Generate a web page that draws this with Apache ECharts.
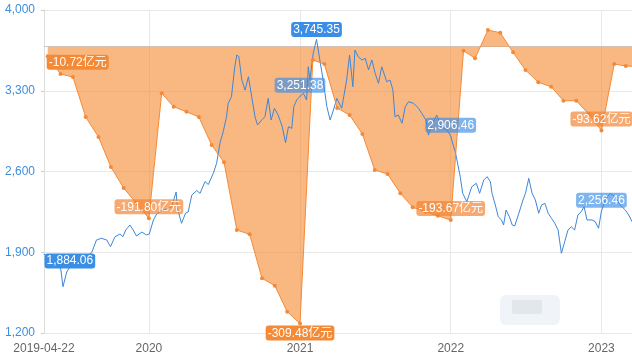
<!DOCTYPE html>
<html><head><meta charset="utf-8">
<script src="https://cdn.jsdelivr.net/npm/echarts@6/dist/echarts.min.js"></script>
<style>html,body{margin:0;padding:0;background:#fff}#c{width:632px;height:356px}</style>
</head><body><div id="c"></div>
<script>
// ---- data ----
const blueDates = ['2019-04-22','2019-05-04','2019-05-16','2019-05-26','2019-06-02','2019-06-07','2019-06-16','2019-06-24','2019-07-08','2019-07-23','2019-08-06','2019-08-16','2019-08-27','2019-09-08','2019-09-21','2019-09-30','2019-10-11','2019-10-23','2019-10-30','2019-11-06','2019-11-16','2019-11-24','2019-12-02','2019-12-15','2019-12-26','2020-01-02','2020-01-12','2020-01-20','2020-02-01','2020-02-13','2020-02-25','2020-03-04','2020-03-07','2020-03-10','2020-03-20','2020-03-30','2020-04-05','2020-04-14','2020-04-26','2020-05-04','2020-05-16','2020-05-24','2020-06-05','2020-06-13','2020-06-21','2020-06-29','2020-07-07','2020-07-11','2020-07-19','2020-07-27','2020-08-01','2020-08-06','2020-08-13','2020-08-21','2020-08-29','2020-09-06','2020-09-14','2020-09-20','2020-09-30','2020-10-08','2020-10-16','2020-10-23','2020-10-31','2020-11-09','2020-11-19','2020-11-27','2020-12-04','2020-12-12','2020-12-17','2020-12-24','2021-01-01','2021-01-09','2021-01-17','2021-01-21','2021-01-25','2021-02-02','2021-02-10','2021-02-18','2021-02-26','2021-03-07','2021-03-15','2021-03-23','2021-03-31','2021-04-12','2021-04-24','2021-05-01','2021-05-09','2021-05-14','2021-05-22','2021-05-31','2021-06-08','2021-06-16','2021-06-24','2021-07-02','2021-07-10','2021-07-18','2021-07-30','2021-08-07','2021-08-14','2021-08-19','2021-08-27','2021-09-05','2021-09-13','2021-09-21','2021-10-03','2021-10-15','2021-10-23','2021-11-02','2021-11-08','2021-11-17','2021-11-28','2021-12-09','2021-12-23','2022-01-01','2022-01-08','2022-01-12','2022-01-16','2022-01-24','2022-01-30','2022-02-09','2022-02-21','2022-03-04','2022-03-12','2022-03-22','2022-03-30','2022-04-07','2022-04-11','2022-04-19','2022-04-26','2022-05-04','2022-05-09','2022-05-15','2022-05-23','2022-05-30','2022-06-05','2022-06-15','2022-06-25','2022-07-01','2022-07-09','2022-07-17','2022-07-25','2022-08-02','2022-08-09','2022-08-17','2022-08-25','2022-09-02','2022-09-10','2022-09-18','2022-09-26','2022-10-04','2022-10-12','2022-10-20','2022-10-28','2022-11-05','2022-11-13','2022-11-20','2022-11-27','2022-12-09','2022-12-17','2022-12-25','2023-01-01','2023-01-10','2023-01-22','2023-02-03','2023-02-15','2023-02-28','2023-03-08','2023-03-16'];
const blueValues = [1884.06,1850,1815,1798,1746,1601,1729,1775,1815,1850,1867,1902,2006,2021,2006,1948,2035,2058,2035,2093,2136,2093,2041,2075,2050,2058,2180,2232,2262,2275,2292,2388,2422,2284,2151,2240,2249,2396,2435,2411,2513,2487,2584,2671,2844,2945,3075,3191,3248,3508,3610,3595,3393,3306,3422,3248,3075,3003,3046,3075,3234,3046,3148,3090,2988,2850,2988,2974,3162,3220,3251.38,3278,3220,3508,3393,3625,3745.35,3567,3393,3162,3046,3133,3234,3148,3393,3610,3335,3653,3595,3567,3581,3480,3567,3451,3365,3508,3378,3393,3306,3075,3090,3018,3162,3205,3191,3148,3104,3046,2916,3012,3090,2986,2960,2906.46,2815,2772,2758,2555,2411,2338,2468,2498,2411,2526,2555,2512,2411,2310,2208,2180,2136,2266,2208,2136,2128,2238,2353,2411,2541,2411,2353,2238,2310,2324,2238,2194,2151,2093,1891,1991,2093,2121,2093,2223,2251,2295,2180,2180,2165,2108,2256.46,2353,2411,2382,2310,2266,2223,2165];
const flowDates = ['2019-05-01','2019-06-01','2019-07-01','2019-08-01','2019-09-01','2019-10-01','2019-11-01','2019-12-01','2020-01-01','2020-02-01','2020-03-01','2020-04-01','2020-05-01','2020-06-01','2020-07-01','2020-08-01','2020-09-01','2020-10-01','2020-11-01','2020-12-01','2021-01-01','2021-02-01','2021-03-01','2021-04-01','2021-05-01','2021-06-01','2021-07-01','2021-08-01','2021-09-01','2021-10-01','2021-11-01','2021-12-01','2022-01-01','2022-02-01','2022-03-01','2022-04-01','2022-05-01','2022-06-01','2022-07-01','2022-08-01','2022-09-01','2022-10-01','2022-11-01','2022-12-01','2023-01-01','2023-02-01','2023-03-01','2023-04-01'];
const flowValues = [-10.72,-30.5,-33.9,-78.6,-100.9,-134.5,-157.9,-174.7,-191.80,-52.1,-67.1,-72.7,-78.6,-109.9,-129.2,-204.9,-209.7,-258.9,-267.1,-296.2,-309.48,-14.9,-19.4,-68.5,-76.4,-97.6,-137.8,-142.3,-163.9,-179.5,-184.5,-189,-193.67,-4.5,-13,18.6,15.6,-6.3,-26.1,-39.8,-44.7,-60.4,-60.4,-75.2,-93.62,-19.4,-21.6,-22];
const labelDates = ['2021-01-01','2022-01-01','2023-01-01','2020-01-01'];
const xTickDates = ['2019-04-22','2020-01-01','2021-01-01','2022-01-01','2023-01-01'];
const xTickLabels = ['2019-04-22','2020','2021','2022','2023'];
const yTicks = [1200,1900,2600,3300,4000];
const xMin = '2019-04-22', xMax = '2023-03-16';
const flowUnit = '亿元';

// ---- styling ----
const FONT = "'Liberation Sans','Noto Sans CJK SC',sans-serif";
const BLUE = '#3a8ee6', ORANGE = '#f58a36';
const BLUE_LIGHT = 'rgba(58,142,230,0.65)', ORANGE_LIGHT = 'rgba(242,130,45,0.68)';
const fmtNum = v => v.toLocaleString('en-US', {minimumFractionDigits: 2, maximumFractionDigits: 2});

function lab(bg, pos, extra) {
  return Object.assign({show: true, position: pos, distance: 2, backgroundColor: bg, color: '#fff',
    padding: [2, 2, 1, 2], borderRadius: 3, fontSize: 12, lineHeight: 12, fontFamily: FONT}, extra || {});
}

const blueMaxIdx = blueValues.indexOf(Math.max(...blueValues));
const blueData = blueDates.map((d, i) => {
  const item = {value: [d, blueValues[i]]};
  let l = null;
  if (i === 0) l = lab(BLUE, 'right', {distance: 0, offset: [0, 7]});
  else if (i === blueMaxIdx) l = lab(BLUE, 'top');
  else if (labelDates.indexOf(d) >= 0) l = lab(BLUE_LIGHT, 'top', {distance: 3});
  if (l) { item.symbol = 'circle'; item.symbolSize = 1; item.label = l; }
  return item;
});

const flowMinIdx = flowValues.indexOf(Math.min(...flowValues));
const flowData = flowDates.map((d, i) => {
  const item = {value: [d, flowValues[i]]};
  if (i === 0) item.label = lab(ORANGE, 'right', {distance: 0, offset: [-3, 6]});
  else if (i === flowMinIdx) item.label = lab(ORANGE, 'bottom', {distance: 0});
  else if (labelDates.indexOf(d) >= 0) item.label = lab(ORANGE_LIGHT, 'top', {distance: 2});
  return item;
});

const tickTs = xTickDates.map(d => +new Date(d));
const chart = echarts.init(document.getElementById('c'), null, {renderer: 'canvas'});
chart.setOption({
  animation: false,
  backgroundColor: '#fff',
  textStyle: {fontFamily: FONT},
  grid: {left: 44, right: 0, top: 10, bottom: 23, containLabel: false},
  xAxis: {
    type: 'time', min: xMin, max: xMax,
    minInterval: 365 * 86400000, maxInterval: 366 * 86400000,
    axisLine: {lineStyle: {color: '#ccc'}},
    axisTick: {show: false},
    splitLine: {show: true, lineStyle: {color: '#e8e8e8'}},
    axisLabel: {
      color: '#666', fontSize: 12, fontFamily: FONT, margin: 10, showMinLabel: true, showMaxLabel: false,
      formatter: function (v) {
        for (let k = 0; k < tickTs.length; k++) if (Math.abs(v - tickTs[k]) < 43200000) return xTickLabels[k];
        return '';
      }
    }
  },
  yAxis: [{
    type: 'value', min: yTicks[0], max: yTicks[yTicks.length - 1], interval: yTicks[1] - yTicks[0],
    axisLine: {show: true, lineStyle: {color: '#ddd'}},
    axisTick: {show: true, length: 3, lineStyle: {color: '#ccc'}},
    splitLine: {lineStyle: {color: '#e8e8e8'}},
    axisLabel: {color: '#3d8ee0', fontSize: 12, fontFamily: FONT, margin: 9,
      formatter: v => v.toLocaleString('en-US')}
  }, {
    type: 'value', min: -320, max: 41, show: false, splitLine: {show: false}
  }],
  series: [{
    type: 'line', name: 'index', data: blueData, xAxisIndex: 0, yAxisIndex: 0,
    symbol: 'none', showSymbol: true, lineStyle: {color: '#3f86d6', width: 1}, itemStyle: {color: BLUE},
    label: {formatter: p => fmtNum(p.value[1])}
  }, {
    type: 'line', name: 'flow', data: flowData, xAxisIndex: 0, yAxisIndex: 1,
    symbol: 'circle', symbolSize: 4, showSymbol: true,
    lineStyle: {color: ORANGE, width: 1}, itemStyle: {color: '#f28a3a'},
    areaStyle: {color: ORANGE, opacity: 0.62},
    label: {formatter: p => fmtNum(p.value[1]) + flowUnit}
  }],
  graphic: [{
    type: 'rect', left: 500, top: 295, shape: {width: 60, height: 30, r: 6},
    style: {fill: 'rgba(222,230,240,0.45)'}, silent: true, z: 0
  }, {
    type: 'rect', left: 512, top: 300, shape: {width: 30, height: 14, r: 2},
    style: {fill: 'rgba(200,205,215,0.35)'}, silent: true, z: 0
  }]
});
</script></body></html>
